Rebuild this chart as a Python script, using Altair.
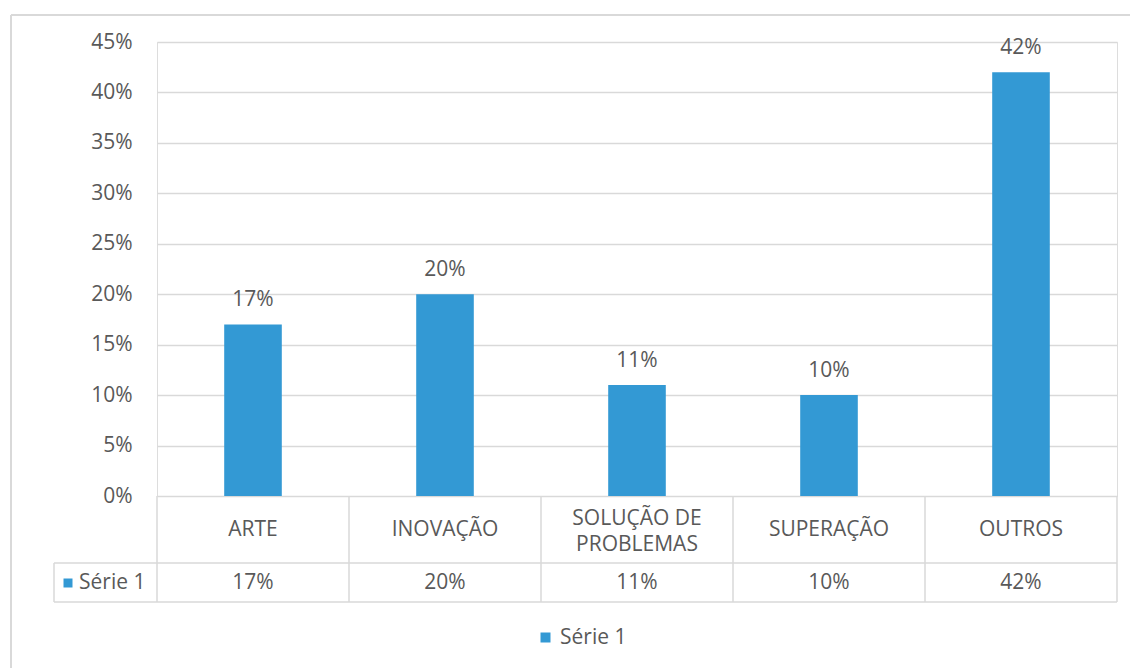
import altair as alt
import pandas as pd

categorias = ["ARTE", "INOVAÇÃO", "SOLUÇÃO DE PROBLEMAS", "SUPERAÇÃO", "OUTROS"]
rotulos = ["ARTE", "INOVAÇÃO", "SOLUÇÃO DE\nPROBLEMAS", "SUPERAÇÃO", "OUTROS"]
valores = [0.17, 0.20, 0.11, 0.10, 0.42]
serie = "Série 1"
ticks_y = [0, 0.05, 0.10, 0.15, 0.20, 0.25, 0.30, 0.35, 0.40, 0.45]

df = pd.DataFrame({"cat": categorias, "rotulo": rotulos, "valor": valores, "serie": serie})
one = pd.DataFrame({"k": [0]})

FONT = "Open Sans"
FS = 21
TXT = "#595959"
GRID = "#d9d9d9"
BLUE = "#3399d4"
W, H = 960, 454

xenc = alt.X("cat:N", sort=categorias, axis=None, scale=alt.Scale(paddingInner=0, paddingOuter=0))

base = alt.Chart(df)

bars = base.mark_bar(width=alt.RelativeBandSize(0.3)).encode(
    x=xenc,
    y=alt.Y("valor:Q", scale=alt.Scale(domain=[0, 0.45], nice=False),
            axis=alt.Axis(values=ticks_y, format=".0%", title=None, domain=False, ticks=False,
                          grid=True, gridColor=GRID, gridWidth=1.5, labelPadding=25,
                          labelFont=FONT, labelFontSize=FS, labelColor=TXT)),
    color=alt.Color("serie:N", scale=alt.Scale(range=[BLUE]),
                    legend=alt.Legend(orient="none", legendX=378, legendY=585, title=None,
                                      symbolType="square", symbolSize=100, symbolStrokeWidth=0,
                                      labelFont=FONT, labelFontSize=FS, labelColor=TXT)),
)

labels = base.mark_text(dy=-24, baseline="middle", font=FONT, fontSize=FS, color=TXT).encode(
    x=xenc, y="valor:Q", text=alt.Text("valor:Q", format=".0%"))

cat_single = base.transform_filter("indexof(datum.rotulo, '\\n') < 0").mark_text(
    baseline="middle", font=FONT, fontSize=FS, color=TXT).encode(
    x=xenc, y=alt.value(488), text="rotulo:N")

cat_multi = base.transform_filter("indexof(datum.rotulo, '\\n') >= 0").mark_text(
    baseline="middle", lineBreak="\n", lineHeight=26, font=FONT, fontSize=FS, color=TXT).encode(
    x=xenc, y=alt.value(477), text="rotulo:N")

val_text = base.mark_text(baseline="middle", font=FONT, fontSize=FS, color=TXT).encode(
    x=alt.X("cat:N", sort=categorias, axis=None), y=alt.value(541),
    text=alt.Text("valor:Q", format=".0%"))

vlines = base.mark_rule(color=GRID, strokeWidth=1.5).encode(
    x=alt.X("cat:N", sort=categorias, axis=None, bandPosition=0),
    y=alt.value(454), y2=alt.value(560))

vlast = base.transform_filter(alt.datum.cat == categorias[-1]).mark_rule(color=GRID, strokeWidth=1.5).encode(
    x=alt.X("cat:N", sort=categorias, axis=None, bandPosition=1),
    y=alt.value(454), y2=alt.value(560))

c1 = alt.Chart(one)
h_mid = c1.mark_rule(color=GRID, strokeWidth=1.5).encode(x=alt.value(-103), x2=alt.value(W), y=alt.value(521))
h_bot = c1.mark_rule(color=GRID, strokeWidth=1.5).encode(x=alt.value(-103), x2=alt.value(W), y=alt.value(560))
v_left = c1.mark_rule(color=GRID, strokeWidth=1.5).encode(x=alt.value(-103), y=alt.value(521), y2=alt.value(560))

serie_df = pd.DataFrame({"serie": [serie]})
c2 = alt.Chart(serie_df)
leg_sq = c2.mark_square(size=81, color=BLUE, opacity=1, filled=True).encode(x=alt.value(-89), y=alt.value(541))
leg_tx = c2.mark_text(align="left", baseline="middle", font=FONT, fontSize=FS, color=TXT).encode(
    x=alt.value(-78), y=alt.value(541), text="serie:N")

b_left = c1.mark_rule(color=GRID, strokeWidth=2).encode(x=alt.value(-146), y=alt.value(-27), y2=alt.value(700))
b_top = c1.mark_rule(color=GRID, strokeWidth=2).encode(x=alt.value(-146), x2=alt.value(1000), y=alt.value(-27))

chart = alt.layer(
    b_left, b_top, vlines, vlast, h_mid, h_bot, v_left, bars, labels, cat_single, cat_multi,
    val_text, leg_sq, leg_tx
).properties(
    width=W, height=H,
    autosize=alt.AutoSizeParams(type="none"),
    padding={"left": 157, "top": 42, "right": 13, "bottom": 172},
).configure_view(stroke=None).configure(background="white")

chart.save("out.html", embed_options={"renderer": "svg", "actions": False})
